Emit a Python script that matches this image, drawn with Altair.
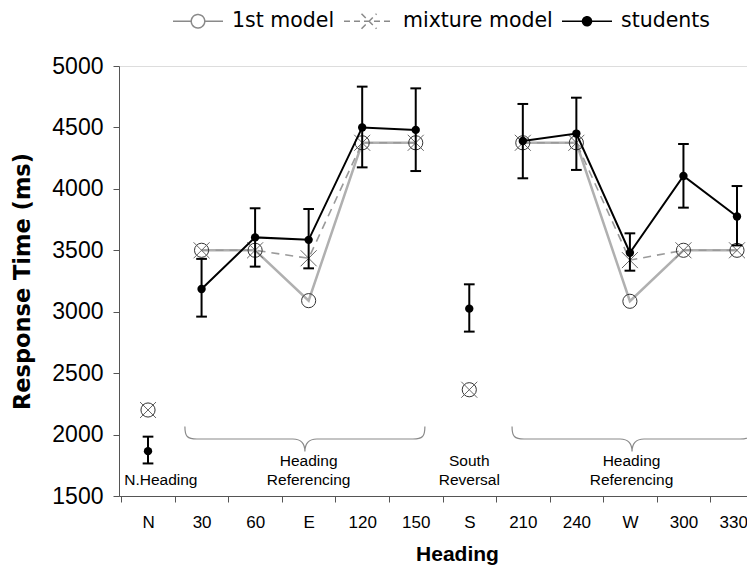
import altair as alt
import pandas as pd

# ---------------- data ----------------
categories = ["N", "30", "60", "E", "120", "150", "S", "210", "240", "W", "300", "330"]
students = [1865, 3185, 3605, 3585, 4500, 4480, 3025, 4390, 4450, 3480, 4105, 3775]
students_lo = [1765, 2960, 3367, 3353, 4175, 4145, 2838, 4086, 4154, 3334, 3847, 3540]
students_hi = [1983, 3430, 3842, 3836, 4832, 4818, 3223, 4691, 4742, 3638, 4365, 4023]
first_model = [2200, 3500, 3500, 3090, 4375, 4375, 2365, 4375, 4375, 3085, 3500, 3500]
mixture_model = [2200, 3500, 3500, 3435, 4375, 4375, 2365, 4375, 4375, 3420, 3500, 3500]
segment = [0, 1, 1, 1, 1, 1, 2, 3, 3, 3, 3, 3]
series_names = ["1st model", "mixture model", "students"]

# annotation texts and brace anchors (in data units)
ann_labels = ["N.Heading", "Heading", "Referencing", "South", "Reversal", "Heading", "Referencing"]
ann_x = [0.24, 3.0, 3.0, 6.0, 6.0, 9.03, 9.03]
ann_y = [1630, 1785, 1630, 1785, 1630, 1785, 1630]
brace_x = [2.93, 9.04]
brace_y = [1964, 1964]

df = pd.DataFrame({
    "i": list(range(len(categories))),
    "cat": categories,
    "students": students,
    "lo": students_lo,
    "hi": students_hi,
    "model1": first_model,
    "mixture": mixture_model,
    "seg": segment,
})
ann_df = pd.DataFrame({"tx": ann_x, "ty": ann_y, "label": ann_labels})
brace_df = pd.DataFrame({"bx": brace_x, "by": brace_y})
leg_df = pd.DataFrame({"series": series_names})

# ---------------- scales / axes ----------------
label_expr = "[" + ",".join("'%s'" % c for c in categories) + "][round(datum.value + 0.5)]"

x_scale = alt.Scale(domain=[-0.542, 11.187], nice=False, zero=False)
y_scale = alt.Scale(domain=[1500, 5000], nice=False, zero=False)

x_axis = alt.Axis(
    values=[k - 0.5 for k in range(len(categories))],
    labelExpr=label_expr,
    labelOffset={"condition": {"test": "datum.value > 10", "value": 23}, "value": 26.8},
    tickSize=6, tickColor="#555", domainColor="#555",
    labelFont="Liberation Sans", labelFontSize=17, labelColor="black",
    labelBaseline="middle", labelPadding=20, labelOverlap=False, labelFlush=False,
    grid=False,
    title="Heading", titleFont="Liberation Sans", titleFontSize=21, titleFontWeight="bold",
    titleColor="black", titleX=338, titleY=58, titleBaseline="middle", titleAlign="center",
)
y_axis = alt.Axis(
    values=[1500, 2000, 2500, 3000, 3500, 4000, 4500, 5000], format="d",
    tickSize=6, tickColor="#555", domainColor="#555",
    labelFont="Liberation Sans", labelFontSize=23, labelColor="black", labelPadding=10,
    grid=False,
    title="Response Time (ms)", titleFont="DejaVu Sans", titleFontSize=22.5,
    titleFontWeight="bold", titleColor="black", titleX=-97, titleY=215,
    titleAngle=270, titleBaseline="middle", titleAlign="center",
)


def X(field="i"):
    return alt.X(field + ":Q", scale=x_scale, axis=x_axis)


def Y(field):
    return alt.Y(field + ":Q", scale=y_scale, axis=y_axis)


base = alt.Chart(df)

line_first = base.mark_line(color="#b0b0b0", strokeWidth=2.5).encode(
    x=X(), y=Y("model1"), detail="seg:N")
line_mix = base.mark_line(color="#9a9a9a", strokeWidth=1.6, strokeDash=[8, 6]).encode(
    x=X(), y=Y("mixture"), detail="seg:N")
pts_first = base.mark_point(shape="circle", size=200, filled=False, stroke="#333",
                            strokeWidth=1, opacity=1).encode(x=X(), y=Y("model1"))
pts_mix = base.mark_point(shape="M-1,-1L1,1M-1,1L1,-1", size=256, filled=False,
                          stroke="#666", strokeWidth=1, opacity=1).encode(x=X(), y=Y("mixture"))
line_stud = base.mark_line(color="black", strokeWidth=2).encode(
    x=X(), y=Y("students"), detail="seg:N")
err = base.mark_rule(color="black", strokeWidth=2).encode(x=X(), y=Y("lo"), y2="hi:Q")
caps = base.transform_calculate(xl="datum.i - 0.1", xr="datum.i + 0.1")
cap_hi = caps.mark_rule(color="black", strokeWidth=2).encode(x=X("xl"), x2="xr:Q", y=Y("hi"))
cap_lo = caps.mark_rule(color="black", strokeWidth=2).encode(x=X("xl"), x2="xr:Q", y=Y("lo"))
pts_stud = base.mark_circle(size=70, color="black", opacity=1).encode(x=X(), y=Y("students"))

BRACE = ("M-1,-0.105 C-1,-0.02 -0.98,0 -0.9,0 L-0.1,0 C-0.03,0 0,0.04 0,0.105 "
         "C0,0.04 0.03,0 0.1,0 L0.9,0 C0.98,0 1,-0.02 1,-0.105")
braces = alt.Chart(brace_df).mark_point(shape=BRACE, size=57600, filled=False,
                                        stroke="#8a8a8a", strokeWidth=1.2, opacity=1).encode(
    x=X("bx"), y=Y("by"))

texts = alt.Chart(ann_df).mark_text(font="Liberation Sans", fontSize=15.5, color="black",
                                    align="center", baseline="middle").encode(
    x=X("tx"), y=Y("ty"), text="label:N")

# ---------------- legend ----------------
leg = alt.Legend(
    title=None, orient="none", legendX=53, legendY=-71, direction="horizontal",
    symbolSize=2500, symbolStrokeWidth=1.5, symbolOpacity=1,
    labelFont="DejaVu Sans", labelFontSize=20.5, labelColor="black",
    labelOffset=8, columnPadding=6,
)
SYM_FIRST = "M-1,0H-0.27M0.27,0H1M0.27,0A0.27,0.27,0,1,1,-0.27,0A0.27,0.27,0,1,1,0.27,0"
SYM_MIX = "M-1,0H1M-0.3,-0.3L0.3,0.3M-0.3,0.3L0.3,-0.3"
SYM_STUD = "M-1,0H1M0.18,0A0.18,0.18,0,1,1,-0.18,0A0.18,0.18,0,1,1,0.18,0"

legend_layer = alt.Chart(leg_df).mark_point(opacity=1, filled=False).encode(
    stroke=alt.Stroke("series:N", scale=alt.Scale(domain=series_names,
                                                  range=["#8a8a8a", "#8a8a8a", "black"]), legend=leg),
    fill=alt.Fill("series:N", scale=alt.Scale(domain=series_names,
                                              range=["transparent", "transparent", "black"]), legend=leg),
    shape=alt.Shape("series:N", scale=alt.Scale(domain=series_names,
                                                range=[SYM_FIRST, SYM_MIX, SYM_STUD]), legend=leg),
    strokeDash=alt.StrokeDash("series:N", scale=alt.Scale(domain=series_names,
                                                          range=[[1, 0], [6, 4], [1, 0]]), legend=leg),
).transform_filter("false")

chart = alt.layer(
    braces, texts, line_first, line_mix, pts_first, pts_mix, line_stud,
    err, cap_hi, cap_lo, pts_stud, legend_layer,
).properties(
    width=628, height=430,
    autosize=alt.AutoSizeParams(type="none"),
    padding={"left": 111, "top": 58, "right": 0, "bottom": 69},
).configure_view(stroke=None).configure(background="white")

chart.save("out.html", embed_options={"renderer": "svg", "actions": False})
